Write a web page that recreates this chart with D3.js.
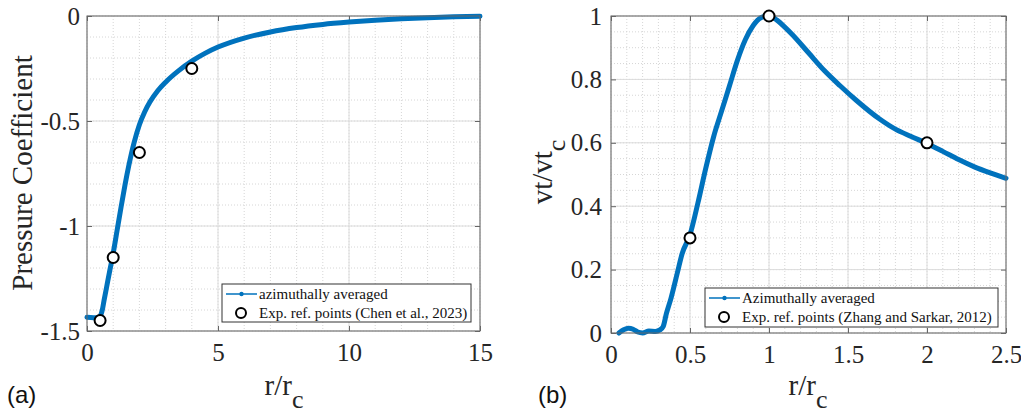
<!DOCTYPE html>
<html><head><meta charset="utf-8">
<script src="https://cdn.jsdelivr.net/npm/d3@7"></script>
<style>
html,body{margin:0;padding:0;background:#fff;}
svg{display:block;}
</style></head>
<body>
<svg id="chart" width="1021" height="419"></svg>
<script>
// ---------- Panel (a): pressure coefficient ----------
const cpR    = [0, 0.25, 0.45, 0.5, 0.55, 0.6, 0.65, 0.75, 0.85, 1.0, 1.15, 1.3, 1.45, 1.6, 1.8, 2.0, 2.2, 2.4, 2.7, 3.0, 3.5, 4, 4.5, 5, 6, 7, 8, 9, 10, 11, 12, 13, 14, 15];
const cpVals = [-1.435, -1.437, -1.435, -1.43, -1.415, -1.39, -1.355, -1.29, -1.225, -1.13, -1.02, -0.91, -0.805, -0.71, -0.602, -0.518, -0.457, -0.41, -0.356, -0.315, -0.26, -0.215, -0.178, -0.148, -0.105, -0.076, -0.055, -0.04, -0.029, -0.02, -0.013, -0.008, -0.004, -0.001];
const cpExpR    = [0.5, 1, 2, 4];
const cpExpVals = [-1.45, -1.15, -0.65, -0.25];
const aXTicks = [0, 5, 10, 15];
const aYTicks = [0, -0.5, -1, -1.5];

// ---------- Panel (b): tangential velocity ----------
const vtR    = [0.05, 0.08, 0.11, 0.14, 0.17, 0.2, 0.24, 0.28, 0.31, 0.33, 0.35, 0.38, 0.42, 0.45, 0.5, 0.55, 0.6, 0.65, 0.7, 0.75, 0.8, 0.85, 0.9, 0.95, 1.0, 1.05, 1.1, 1.15, 1.25, 1.35, 1.45, 1.55, 1.7, 1.8, 1.9, 2.0, 2.1, 2.2, 2.3, 2.4, 2.5];
const vtVals = [0.0, 0.01, 0.015, 0.012, 0.003, 0.0, 0.006, 0.005, 0.01, 0.02, 0.06, 0.11, 0.19, 0.25, 0.31, 0.41, 0.52, 0.62, 0.70, 0.78, 0.86, 0.925, 0.97, 0.995, 1.0, 0.987, 0.965, 0.94, 0.884, 0.828, 0.78, 0.735, 0.675, 0.643, 0.62, 0.598, 0.573, 0.547, 0.524, 0.505, 0.488];
const vtExpR    = [0.5, 1, 2];
const vtExpVals = [0.3, 1.0, 0.6];
const bXTicks = [0, 0.5, 1, 1.5, 2, 2.5];
const bYTicks = [0, 0.2, 0.4, 0.6, 0.8, 1];

const svg = d3.select("#chart");
const SERIF = "Liberation Serif, Times New Roman, serif";
const SANS = "Liberation Sans, Arial, sans-serif";
const BLUE = "#0072BD";

function drawPanel(cfg) {
  const {left, top, right, bottom} = cfg.box;
  const x = d3.scaleLinear().domain(cfg.xDomain).range([left, right]);
  const y = d3.scaleLinear().domain(cfg.yDomain).range([bottom, top]);
  const g = svg.append("g");

  // minor grid
  const xMinor = d3.range(cfg.xDomain[0], cfg.xDomain[1] + 1e-9, cfg.xMinor);
  const yMinor = d3.range(cfg.yDomain[0], cfg.yDomain[1] + 1e-9, cfg.yMinor);
  g.append("g").selectAll("line").data(xMinor).join("line")
    .attr("x1", d => x(d)).attr("x2", d => x(d)).attr("y1", top).attr("y2", bottom)
    .attr("stroke", "#d6d6d6").attr("stroke-width", 1).attr("stroke-dasharray", "1,2");
  g.append("g").selectAll("line").data(yMinor).join("line")
    .attr("y1", d => y(d)).attr("y2", d => y(d)).attr("x1", left).attr("x2", right)
    .attr("stroke", "#d6d6d6").attr("stroke-width", 1).attr("stroke-dasharray", "1,2");
  // major grid
  g.append("g").selectAll("line").data(cfg.xTicks).join("line")
    .attr("x1", d => x(d)).attr("x2", d => x(d)).attr("y1", top).attr("y2", bottom)
    .attr("stroke", "#dcdcdc").attr("stroke-width", 1);
  g.append("g").selectAll("line").data(cfg.yTicks).join("line")
    .attr("y1", d => y(d)).attr("y2", d => y(d)).attr("x1", left).attr("x2", right)
    .attr("stroke", "#dcdcdc").attr("stroke-width", 1);

  // axes (inward ticks, all four sides)
  const fmt = d => String(d);
  const styleAxis = sel => {
    sel.attr("font-family", SERIF).attr("font-size", 25);
    sel.select(".domain").remove();
    sel.selectAll(".tick line").attr("stroke", "#666");
    sel.selectAll(".tick text").attr("fill", "#262626")
      .attr("font-family", SERIF).attr("font-size", 25);
  };
  g.append("g").attr("transform", `translate(0,${bottom})`)
    .call(d3.axisBottom(x).tickValues(cfg.xTicks).tickFormat(fmt).tickSize(-5).tickSizeOuter(0).tickPadding(12))
    .call(styleAxis);
  g.append("g").attr("transform", `translate(0,${top})`)
    .call(d3.axisTop(x).tickValues(cfg.xTicks).tickFormat("").tickSize(-5).tickSizeOuter(0))
    .call(styleAxis);
  g.append("g").attr("transform", `translate(${left},0)`)
    .call(d3.axisLeft(y).tickValues(cfg.yTicks).tickFormat(fmt).tickSize(-5).tickSizeOuter(0).tickPadding(cfg.yPad))
    .call(styleAxis);
  g.append("g").attr("transform", `translate(${right},0)`)
    .call(d3.axisRight(y).tickValues(cfg.yTicks).tickFormat("").tickSize(-5).tickSizeOuter(0))
    .call(styleAxis);

  // clip
  const clipId = "clip" + cfg.id;
  svg.append("clipPath").attr("id", clipId).append("rect")
    .attr("x", left - 3).attr("y", top - 3).attr("width", right - left + 6).attr("height", bottom - top + 6);

  // curve
  const pts = cfg.r.map((d, i) => [d, cfg.v[i]]);
  const line = d3.line().x(d => x(d[0])).y(d => y(d[1])).curve(d3.curveMonotoneX);
  g.append("path").datum(pts).attr("d", line).attr("clip-path", `url(#${clipId})`)
    .attr("fill", "none").attr("stroke", BLUE).attr("stroke-width", cfg.lw)
    .attr("stroke-linejoin", "round").attr("stroke-linecap", "round");

  // box
  g.append("rect").attr("x", left).attr("y", top).attr("width", right - left).attr("height", bottom - top)
    .attr("fill", "none").attr("stroke", "#666").attr("stroke-width", 1);

  // exp points
  g.append("g").selectAll("circle").data(cfg.er.map((d, i) => [d, cfg.ev[i]])).join("circle")
    .attr("cx", d => x(d[0])).attr("cy", d => y(d[1])).attr("r", 5.5)
    .attr("fill", "#fff").attr("stroke", "#000").attr("stroke-width", 2);

  // legend
  const L = cfg.legend;
  const lg = g.append("g");
  lg.append("rect").attr("x", L.x).attr("y", L.y).attr("width", L.w).attr("height", L.h)
    .attr("fill", "#fff").attr("stroke", "#333").attr("stroke-width", 1);
  const r1 = L.y + 10, r2 = L.y + 29;
  lg.append("line").attr("x1", L.x + 4).attr("x2", L.x + 35).attr("y1", r1).attr("y2", r1)
    .attr("stroke", BLUE).attr("stroke-width", 1.5);
  lg.append("circle").attr("cx", L.x + 19.5).attr("cy", r1).attr("r", 2.2).attr("fill", BLUE);
  lg.append("circle").attr("cx", L.x + 19).attr("cy", r2).attr("r", 5).attr("fill", "#fff")
    .attr("stroke", "#000").attr("stroke-width", 2);
  lg.append("text").attr("x", L.x + 37).attr("y", r1 + 5).text(L.t1)
    .attr("font-family", SERIF).attr("font-size", 15).attr("fill", "#111");
  lg.append("text").attr("x", L.x + 37).attr("y", r2 + 5).text(L.t2)
    .attr("font-family", SERIF).attr("font-size", 15).attr("fill", "#111");

  // x label
  const xl = g.append("text").attr("x", cfg.xLabelX).attr("y", 395)
    .attr("font-family", SERIF).attr("font-size", 29).attr("fill", "#262626")
    .attr("text-anchor", "middle");
  xl.append("tspan").text("r/r");
  xl.append("tspan").attr("dy", 13).attr("font-size", 26).text("c");

  // y label
  const yl = g.append("text")
    .attr("transform", `translate(${cfg.yLabelX},${cfg.yLabelY}) rotate(-90)`)
    .attr("font-family", SERIF).attr("font-size", cfg.yLabelSize).attr("fill", "#262626")
    .attr("text-anchor", "middle");
  yl.append("tspan").text(cfg.yLabel);
  if (cfg.yLabelSub) yl.append("tspan").attr("dy", 13).attr("font-size", 26).text(cfg.yLabelSub);

  // panel tag
  g.append("text").attr("x", cfg.tagX).attr("y", 403).text(cfg.tag)
    .attr("font-family", SANS).attr("font-size", 24).attr("fill", "#111");
}

drawPanel({
  id: "a",
  box: {left: 87, top: 16, right: 480, bottom: 331},
  xDomain: [0, 15], yDomain: [-1.5, 0],
  xTicks: aXTicks, yTicks: aYTicks, xMinor: 1, yMinor: 0.1, yPad: 7,
  r: cpR, v: cpVals, er: cpExpR, ev: cpExpVals, lw: 5,
  legend: {x: 222, y: 284, w: 249, h: 38, t1: "azimuthally averaged", t2: "Exp. ref. points (Chen et al., 2023)"},
  xLabelX: 284, yLabelX: 32, yLabelY: 173, yLabel: "Pressure Coefficient", yLabelSize: 29,
  tag: "(a)", tagX: 7
});

drawPanel({
  id: "b",
  box: {left: 611, top: 16, right: 1006, bottom: 333},
  xDomain: [0, 2.5], yDomain: [0, 1],
  xTicks: bXTicks, yTicks: bYTicks, xMinor: 0.1, yMinor: 0.05, yPad: 9,
  r: vtR, v: vtVals, er: vtExpR, ev: vtExpVals, lw: 5,
  legend: {x: 705, y: 288, w: 293, h: 39, t1: "Azimuthally averaged", t2: "Exp. ref. points (Zhang and Sarkar, 2012)"},
  xLabelX: 808, yLabelX: 552, yLabelY: 172, yLabel: "vt/vt", yLabelSub: "c", yLabelSize: 29,
  tag: "(b)", tagX: 538
});
</script>
</body></html>
